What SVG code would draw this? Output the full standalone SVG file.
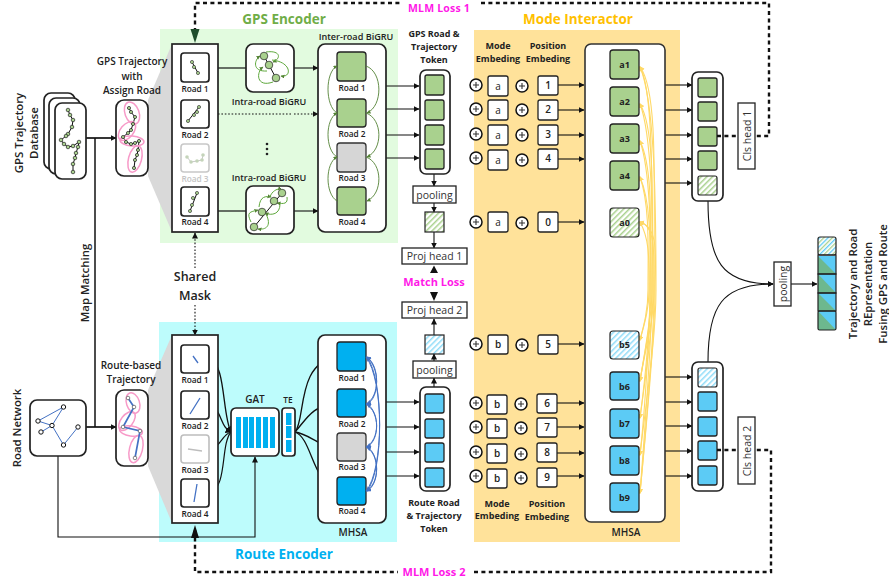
<svg xmlns="http://www.w3.org/2000/svg" width="889" height="584" viewBox="0 0 889 584">
<style>
text{font-family:"Open Sans","Noto Sans","DejaVu Sans",sans-serif;fill:#222;text-anchor:middle}
.t{font-size:8.3px;font-weight:600}
.i{font-size:9.1px;font-weight:600}
.s{font-size:9px;font-weight:700}
.l{font-size:10px;font-weight:600}
.r{font-size:11.4px;font-weight:600}
.h{font-size:10.5px;font-weight:400;fill:#333}
.big{font-size:13.5px;font-weight:700}
.sh{font-size:12.5px;font-weight:600}
.mag{font-size:11px;font-weight:700;fill:#ff19e8}
.box{fill:#fff;stroke:#222;stroke-width:1.7}
.bx2{fill:#fff;stroke:#222;stroke-width:1.3}
.rt{fill:#fff;stroke:#222;stroke-width:1.7}
.g{fill:#a9d18e;stroke:#222;stroke-width:1.3}
.b{fill:#00b0f0;stroke:#222;stroke-width:1.3}
.lb{fill:#5ccbf5;stroke:#222;stroke-width:1.3}
.gr{fill:#d6d6d6;stroke:#333;stroke-width:1.3}
.hg{fill:url(#hg);stroke:#222;stroke-width:1.2}
.hb{fill:url(#hb);stroke:#222;stroke-width:1.2}
.a{fill:none;stroke:#111;stroke-width:1.1;marker-end:url(#ah)}
.n{fill:none;stroke:#111;stroke-width:1.2}
.d{fill:none;stroke:#111;stroke-width:2.4;stroke-dasharray:4 3.4}
.dot{fill:none;stroke:#111;stroke-width:1.1;stroke-dasharray:1.6 1.8}
.ga{fill:none;stroke:#548235;stroke-width:.9;marker-end:url(#ag)}
.ia{fill:none;stroke:#5ea83c;stroke-width:1;marker-end:url(#ag)}
.ba{fill:none;stroke:#4472c4;stroke-width:1;marker-end:url(#ab)}
.ya{fill:none;stroke:#ffd966;stroke-width:1.1;marker-end:url(#ay);marker-start:url(#ays)}
.pk{fill:none;stroke:#f79ac8;stroke-width:1.5}
.tr{fill:none;stroke:#111;stroke-width:1}
.pt{fill:#a9d18e;stroke:#222;stroke-width:.7}
.pw{fill:#fff;stroke:#555;stroke-width:.7}
.bl{fill:none;stroke:#4472c4;stroke-width:1.3}
.tile{fill:#00b0f0}
</style>
<defs>
<marker id="ah" markerUnits="userSpaceOnUse" markerWidth="7" markerHeight="7" refX="5.500" refY="3" orient="auto"><path d="M0 0L6 3L0 6z" fill="#111"/></marker>
<marker id="ag" markerUnits="userSpaceOnUse" markerWidth="5" markerHeight="5" refX="3.500" refY="2" orient="auto"><path d="M0 0L4 2L0 4z" fill="#548235"/></marker>
<marker id="ab" markerUnits="userSpaceOnUse" markerWidth="6" markerHeight="6" refX="4" refY="2.500" orient="auto"><path d="M0 0L5 2.500L0 5z" fill="#4472c4"/></marker>
<marker id="ay" markerUnits="userSpaceOnUse" markerWidth="6" markerHeight="6" refX="4" refY="2.500" orient="auto"><path d="M0 0L5 2.500L0 5z" fill="#ffd966"/></marker>
<marker id="ays" markerUnits="userSpaceOnUse" markerWidth="6" markerHeight="6" refX="4" refY="2.500" orient="auto-start-reverse"><path d="M0 0L5 2.500L0 5z" fill="#ffd966"/></marker>
<pattern id="hg" patternUnits="userSpaceOnUse" width="4" height="4" patternTransform="rotate(45)"><rect width="4" height="4" fill="#fff"/><rect width="1.500" height="4" fill="#a9d18e"/></pattern>
<pattern id="hb" patternUnits="userSpaceOnUse" width="4" height="4" patternTransform="rotate(45)"><rect width="4" height="4" fill="#fff"/><rect width="1.500" height="4" fill="#8fdcf8"/></pattern>
<pattern id="hm" patternUnits="userSpaceOnUse" width="6" height="6" patternTransform="rotate(45)"><rect width="6" height="6" fill="#fff"/><rect width="1.300" height="6" fill="#a9d18e"/><rect x="3" width="1.300" height="6" fill="#5ccbf5"/></pattern>
<g id="plus"><circle r="6" fill="#fff" stroke="#111" stroke-width="1.500"/><path d="M-3 0H3M0-3V3" stroke="#333" stroke-width="1.100"/></g>
</defs>

<g id="backgrounds">
<rect x="160" y="29" width="238" height="214" fill="#e2fbdf"/>
<rect x="159" y="322" width="238" height="220" fill="#bdfcfc"/>
<rect x="474" y="30" width="206" height="512" fill="#ffe29a"/>
<path d="M148 100L172 44V232L148 176z" fill="#d9d9d9"/>
<path d="M148 390L172 335V523L148 466z" fill="#d9d9d9"/>
</g>

<g id="titles">
<text x="284" y="24" class="big" style="fill:#70ad47">GPS Encoder</text>
<text x="284" y="559" class="big" style="fill:#00b0f0">Route Encoder</text>
<text x="578" y="24" class="big" style="fill:#ffc000">Mode Interactor</text>
<text x="439" y="11.500" class="mag" style="font-size:10.500px;letter-spacing:.2px">MLM Loss 1</text>
<text x="434" y="576" class="mag">MLM Loss 2</text>
<text x="434" y="286" class="mag">Match Loss</text>
<text x="195" y="281" class="sh">Shared</text>
<text x="195" y="300" class="sh">Mask</text>
<text x="132" y="65" class="l">GPS Trajectory</text><text x="132" y="80" class="l">with</text><text x="132" y="94" class="l">Assign Road</text>
<text x="131" y="369" class="l">Route-based</text><text x="131" y="383" class="l">Trajectory</text>
<text transform="translate(23,133) rotate(-90)" class="r">GPS Trajectory</text>
<text transform="translate(38,133) rotate(-90)" class="r">Database</text>
<text transform="translate(21,428) rotate(-90)" class="r">Road Network</text>
<text transform="translate(89,283) rotate(-90)" class="r">Map Matching</text>
<text transform="translate(857,284) rotate(-90)" class="r">Trajectory and Road</text>
<text transform="translate(872,284) rotate(-90)" class="r">REpresentation</text>
<text transform="translate(887,284) rotate(-90)" class="r">Fusing GPS and Route</text>
<text x="434" y="37" class="s">GPS Road &amp;</text><text x="434" y="50" class="s">Trajectory</text><text x="434" y="63" class="s">Token</text>
<text x="434" y="506" class="s">Route Road</text><text x="434" y="519" class="s">&amp; Trajectory</text><text x="434" y="532" class="s">Token</text>
<text x="498" y="49" class="s">Mode</text><text x="498" y="62" class="s">Embeding</text>
<text x="548" y="49" class="s">Position</text><text x="548" y="62" class="s">Embeding</text>
<text x="497" y="507" class="s">Mode</text><text x="497" y="519" class="s">Embeding</text>
<text x="547" y="507" class="s">Position</text><text x="547" y="520" class="s">Embeding</text>
<text x="356" y="40" class="i">Inter-road BiGRU</text>
<text x="269" y="105" class="i">Intra-road BiGRU</text>
<text x="269" y="181" class="i">Intra-road BiGRU</text>
<text x="353" y="536" class="l">MHSA</text>
<text x="626" y="536" class="l">MHSA</text>
<text x="255" y="403" class="l">GAT</text>
<text x="288" y="403" class="t">TE</text>
<g fill="#222" id="ellipsis"><circle cx="267" cy="144" r="1.300"/><circle cx="267" cy="149" r="1.300"/><circle cx="267" cy="154" r="1.300"/></g>
</g>

<g id="connectors">
<path class="d" d="M195 32V3H400M481 3H769V136H755"/>
<path d="M190.500 29H199.500L195 43z" fill="#1e4d2b"/>
<path class="d" d="M195 530V572H398M474 572H771V450H755"/>
<path d="M191 538H199L195 525z" fill="#111"/>
<path class="a" style="stroke-width:1.700" d="M86 138H116"/>
<path class="n" style="stroke-width:1.500" d="M95 138V427"/>
<path class="a" style="stroke-width:1.700" d="M86 427H116"/>
<path class="a" d="M58 456V537H255V457"/>
<path class="dot" style="marker-end:url(#ah)" d="M195 268V233"/>
<path class="dot" style="marker-end:url(#ah)" d="M195 305V335"/>
<path class="n" d="M218 68H246"/><path class="a" d="M294 68H318"/>
<path class="dot" d="M218 114H292"/><path class="dot" style="marker-end:url(#ah)" d="M294 114H318"/>
<path class="n" d="M218 211H246"/><path class="a" d="M294 211H318"/>
<path class="a" d="M386 86H419"/><path class="a" d="M386 109H419"/><path class="a" d="M386 135H419"/><path class="a" d="M386 158H419"/>
<path class="a" d="M386 402H419"/><path class="a" d="M386 427H419"/><path class="a" d="M386 452H419"/><path class="a" d="M386 476H419"/>
<path class="a" d="M434 174V186"/><path class="a" d="M434 203V212"/><path class="a" d="M434 232V248"/>
<path class="a" d="M434 335V319"/><path class="a" d="M434 361V354"/><path class="a" d="M434 387V378"/>
<path d="M430 273L434 265.500L438 273z M430 292H438L434 301z" fill="#111"/>
<path class="a" d="M558 85H584"/><path class="a" d="M558 110H584"/><path class="a" d="M558 135H584"/><path class="a" d="M558 159H584"/><path class="a" d="M558 222H584"/>
<path class="a" d="M558 344H584"/><path class="a" d="M557 403H584"/><path class="a" d="M557 427H584"/><path class="a" d="M557 453H584"/><path class="a" d="M557 476H584"/>
<path class="a" d="M665 85H692"/><path class="a" d="M665 110H692"/><path class="a" d="M665 135H692"/><path class="a" d="M665 159H692"/><path class="a" d="M665 183H692"/>
<path class="a" d="M665 377H692"/><path class="a" d="M665 402H692"/><path class="a" d="M665 426H692"/><path class="a" d="M665 451H692"/><path class="a" d="M665 476H692"/>
<path class="a" d="M708 201C708 262 722 284 773 284"/>
<path class="a" d="M708 362C708 306 722 284 773 284"/>
<path class="a" d="M791 284H817"/>
<path class="a" style="stroke-width:1.300" d="M209 359C226 362 222 415 231 432"/>
<path class="a" style="stroke-width:1.300" d="M209 405C222 408 220 428 231 432"/>
<path class="n" d="M209 449C220 449 222 434 231 432"/>
<path class="n" d="M209 493C228 488 220 445 231 432"/>
<path class="a" style="stroke-width:1.300" d="M295 432C306 420 296 362 337 357"/>
<path class="a" style="stroke-width:1.300" d="M295 432C306 420 312 405 337 403"/>
<path class="a" style="stroke-width:1.300" d="M295 432C310 434 318 447 337 447"/>
<path class="a" style="stroke-width:1.300" d="M295 432C312 438 312 482 337 490"/>
</g>

<g id="node-database">
<rect x="44" y="93" width="31" height="76" rx="7" class="box"/>
<rect x="49" y="98" width="31" height="76" rx="7" class="box"/>
<rect x="55" y="103" width="31" height="76" rx="7" class="box"/>
<path class="tr" d="M68 110L70 115L73 120L72 127L68 134L66 136L61 140L64 144L68 147L73 146L79 142L78 147L76 153L75 158L73 164L73 172"/>
<g class="pt"><circle cx="68" cy="110" r="1.800"/><circle cx="70" cy="115" r="1.800"/><circle cx="73" cy="120" r="1.800"/><circle cx="72" cy="127" r="1.800"/><circle cx="68" cy="134" r="1.800"/><circle cx="66" cy="136" r="1.800"/><circle cx="61" cy="140" r="1.800"/><circle cx="64" cy="144" r="1.800"/><circle cx="68" cy="147" r="1.800"/><circle cx="73" cy="146" r="1.800"/><circle cx="79" cy="142" r="1.800"/><circle cx="78" cy="147" r="1.800"/><circle cx="76" cy="153" r="1.800"/><circle cx="75" cy="158" r="1.800"/><circle cx="73" cy="164" r="1.800"/><circle cx="73" cy="172" r="1.800"/></g>
</g>

<g id="node-gps-trajectory">
<rect x="116" y="100" width="32" height="76" rx="8" class="box"/>
<path class="tr" d="M129 108L131 112L135 117L133 124L131 130L128 133L123 137L126 142L131 144L135 143L139 141L138 150L137 155L135 160L134 168"/>
<g class="pk"><ellipse cx="132" cy="113" rx="7" ry="11.500" transform="rotate(-20 132 113)"/><ellipse cx="127" cy="131" rx="6.500" ry="11" transform="rotate(40 127 131)"/><ellipse cx="132" cy="141" rx="12" ry="5" transform="rotate(5 132 141)"/><ellipse cx="135" cy="159" rx="6.500" ry="13.500" transform="rotate(15 135 159)"/></g>
<g class="pt"><circle cx="129" cy="108" r="1.600"/><circle cx="131" cy="112" r="1.600"/><circle cx="135" cy="117" r="1.600"/><circle cx="133" cy="124" r="1.600"/><circle cx="131" cy="130" r="1.600"/><circle cx="128" cy="133" r="1.600"/><circle cx="123" cy="137" r="1.600"/><circle cx="126" cy="142" r="1.600"/><circle cx="131" cy="144" r="1.600"/><circle cx="135" cy="143" r="1.600"/><circle cx="139" cy="141" r="1.600"/><circle cx="138" cy="150" r="1.600"/><circle cx="137" cy="155" r="1.600"/><circle cx="135" cy="160" r="1.600"/><circle cx="134" cy="168" r="1.600"/></g>
</g>

<g id="node-road-network">
<rect x="30" y="400" width="56" height="56" rx="7" class="box"/>
<path class="bl" style="stroke-width:1" d="M38 421L52 425.500M38 421L63.500 407M63.500 407L52 425.500M52 425.500L41 432M52 425.500L63.500 445L78 427"/>
<g fill="#fff" stroke="#111" stroke-width="1"><circle cx="63.500" cy="407" r="2.200"/><circle cx="38" cy="421" r="2.200"/><circle cx="52" cy="425.500" r="2.200"/><circle cx="41" cy="432" r="2.200"/><circle cx="78" cy="427" r="2.200"/><circle cx="63.500" cy="445" r="2.200"/></g>
</g>

<g id="node-route-trajectory">
<rect x="116" y="390" width="32" height="76" rx="8" class="box"/>
<g class="pk"><ellipse cx="133" cy="403" rx="6.500" ry="10.500" transform="rotate(-18 133 403)"/><ellipse cx="127" cy="421" rx="6" ry="11" transform="rotate(38 127 421)"/><ellipse cx="131" cy="431" rx="11.500" ry="5" transform="rotate(8 131 431)"/><ellipse cx="136" cy="449" rx="6.500" ry="14" transform="rotate(14 136 449)"/></g>
<path class="bl" style="stroke-width:1.700" d="M128 398L134 407L123 427L140 431L135 458"/>
<g class="pw"><circle cx="128" cy="398" r="1.800"/><circle cx="134" cy="407" r="1.800"/><circle cx="123" cy="427" r="1.800"/><circle cx="140" cy="431" r="1.800"/><circle cx="135" cy="458" r="1.800"/></g>
</g>

<g id="node-gps-roads">
<rect x="172" y="44" width="46" height="188" class="box"/>
<rect x="181" y="53" width="28" height="29" rx="3" class="rt"/>
<rect x="181" y="100" width="28" height="28" rx="3" class="rt"/>
<rect x="181" y="144" width="28" height="28" rx="3" fill="#fff" stroke="#c8c8c8" stroke-width="1.600"/>
<rect x="181" y="187" width="28" height="29" rx="3" class="rt"/>
<path class="tr" d="M192 62L198 73M199 107L188 121M197 193L190 211"/>
<path d="M187 157L191 162L197 161L202 160L203 155" fill="none" stroke="#c8c8c8"/>
<g class="pt" style="stroke-width:.6"><circle cx="192" cy="62" r="1.600"/><circle cx="194" cy="67" r="1.600"/><circle cx="198" cy="73" r="1.600"/><circle cx="199" cy="107" r="1.600"/><circle cx="197" cy="112" r="1.600"/><circle cx="194" cy="115" r="1.600"/><circle cx="188" cy="121" r="1.600"/><circle cx="197" cy="193" r="1.600"/><circle cx="193" cy="198" r="1.600"/><circle cx="192" cy="205" r="1.600"/><circle cx="190" cy="211" r="1.600"/></g>
<g fill="#c4d4ba"><circle cx="187" cy="157" r="1.800"/><circle cx="191" cy="162" r="1.800"/><circle cx="197" cy="161" r="1.800"/><circle cx="202" cy="160" r="1.800"/><circle cx="203" cy="155" r="1.800"/></g>
<text x="195" y="92" class="t">Road 1</text><text x="195" y="138" class="t">Road 2</text><text x="195" y="182" class="t" style="fill:#c4c4c4">Road 3</text><text x="195" y="225" class="t">Road 4</text>
</g>

<g id="node-route-roads">
<rect x="172" y="335" width="46" height="188" class="box"/>
<rect x="181" y="345" width="28" height="28" rx="3" class="rt"/>
<rect x="181" y="391" width="28" height="28" rx="3" class="rt"/>
<rect x="181" y="435" width="28" height="28" rx="3" fill="#fff" stroke="#bdbdbd" stroke-width="1.600"/>
<rect x="181" y="479" width="28" height="28" rx="3" class="rt"/>
<path class="bl" d="M193 356L198 363M200 398L190 414M197 484L194 502"/>
<path d="M188 449L202 451" stroke="#bdbdbd" stroke-width="1.300"/>
<text x="195" y="383" class="t">Road 1</text><text x="195" y="429" class="t">Road 2</text><text x="195" y="473" class="t">Road 3</text><text x="195" y="517" class="t">Road 4</text>
</g>

<g id="node-intra-1">
<rect x="246" y="44" width="48" height="48" rx="7" class="box"/>
<path class="tr" d="M264 56L276 78"/>
<path class="ia" d="M266 52C280 50 282 58 273 62"/>
<path class="ia" d="M267 71C252 72 254 60 260 56"/>
<path class="ia" d="M272 60C292 62 292 78 281 76"/>
<path class="ia" d="M273 82C256 88 256 72 263 67"/>
<g class="pt"><circle cx="264" cy="56" r="3.800"/><circle cx="269" cy="65" r="3.800"/><circle cx="276" cy="78" r="3.800"/></g>
</g>

<g id="node-intra-2">
<rect x="246" y="186" width="48" height="48" rx="7" class="box"/>
<path class="tr" d="M254 227L282 193"/>
<path class="ia" d="M251 222C246 212 250 212 258 210"/>
<path class="ia" d="M266 214C272 226 266 230 258 229"/>
<path class="ia" d="M259 207C260 196 266 196 271 197"/>
<path class="ia" d="M280 204C280 214 272 216 265 213"/>
<path class="ia" d="M270 197C272 190 280 188 278 190"/>
<path class="ia" d="M287 197C288 204 284 204 277 203"/>
<g class="pt"><circle cx="254" cy="227" r="3.800"/><circle cx="262" cy="212" r="3.800"/><circle cx="274" cy="201" r="3.800"/><circle cx="282" cy="193" r="3.800"/></g>
</g>

<g id="node-inter-road">
<rect x="318" y="44" width="68" height="188" rx="7" class="box"/>
<rect x="337" y="52" width="29" height="29" rx="3" class="g"/>
<rect x="337" y="99" width="29" height="28" rx="3" class="g"/>
<rect x="337" y="143" width="29" height="29" rx="3" class="gr"/>
<rect x="337" y="187" width="29" height="28" rx="3" class="g"/>
<path class="ga" d="M366 66C383 72 383 106 367 113"/><path class="ga" d="M366 113C383 119 383 150 367 157"/><path class="ga" d="M366 157C383 163 383 194 367 201"/>
<path class="ga" d="M337 113C325 106 325 72 337 66"/><path class="ga" d="M337 157C325 150 325 119 337 113"/><path class="ga" d="M337 201C325 194 325 163 337 157"/>
<text x="352" y="91" class="t">Road 1</text><text x="352" y="137" class="t">Road 2</text><text x="352" y="181" class="t">Road 3</text><text x="352" y="225" class="t">Road 4</text>
</g>

<g id="node-mhsa-route">
<rect x="318" y="335" width="68" height="188" rx="7" class="box"/>
<rect x="337" y="342" width="29" height="29" rx="3" class="b"/>
<rect x="337" y="389" width="29" height="28" rx="3" class="b"/>
<rect x="337" y="433" width="29" height="28" rx="3" class="gr"/>
<rect x="337" y="477" width="29" height="28" rx="3" class="b"/>
<path class="ba" d="M366 357C380 366 380 398 367 404"/><path class="ba" d="M366 404C380 397 380 366 367 357"/>
<path class="ba" d="M366 404C380 412 380 440 367 447"/><path class="ba" d="M366 447C380 440 380 412 367 404"/>
<path class="ba" d="M366 447C380 454 380 484 367 491"/><path class="ba" d="M366 491C380 484 380 454 367 447"/>
<path class="ba" d="M366 357C384 380 384 470 367 491"/><path class="ba" d="M366 491C384 470 384 380 367 357"/>
<text x="352" y="381" class="t">Road 1</text><text x="352" y="427" class="t">Road 2</text><text x="352" y="470" class="t">Road 3</text><text x="352" y="514" class="t">Road 4</text>
</g>

<g id="node-gat">
<rect x="231" y="408" width="48" height="48" rx="5" class="box"/>
<g class="tile"><rect x="236" y="417" width="5" height="31"/><rect x="243" y="417" width="5" height="31"/><rect x="249" y="417" width="5" height="31"/><rect x="256" y="417" width="5" height="31"/><rect x="263" y="417" width="5" height="31"/><rect x="270" y="417" width="5" height="31"/></g>
</g>
<g id="node-te">
<rect x="282" y="408" width="13" height="48" rx="3" class="box"/>
<g class="tile"><rect x="286" y="413" width="5.500" height="12"/><rect x="286" y="426" width="5.500" height="12"/><rect x="286" y="440" width="5.500" height="12"/></g>
</g>

<g id="node-gps-token">
<rect x="420" y="70" width="30" height="104" rx="6" class="box"/>
<rect x="425" y="75" width="19" height="20" rx="2" class="g"/><rect x="425" y="100" width="19" height="20" rx="2" class="g"/><rect x="425" y="125" width="19" height="20" rx="2" class="g"/><rect x="425" y="149" width="19" height="20" rx="2" class="g"/>
</g>
<g id="node-route-token">
<rect x="420" y="387" width="30" height="104" rx="6" class="box"/>
<rect x="425" y="394" width="19" height="19" rx="2" class="lb"/><rect x="425" y="419" width="19" height="19" rx="2" class="lb"/><rect x="425" y="443" width="19" height="19" rx="2" class="lb"/><rect x="425" y="468" width="19" height="19" rx="2" class="lb"/>
</g>
<g id="node-pool-1"><rect x="413" y="186" width="43" height="17" class="bx2"/><text x="434.500" y="198.500" class="h">pooling</text></g>
<g id="node-cls-gps"><rect x="425" y="212" width="19" height="20" class="hg"/></g>
<g id="node-proj-1"><rect x="402" y="248" width="65" height="16" class="bx2"/><text x="434.500" y="260" class="h">Proj head 1</text></g>
<g id="node-proj-2"><rect x="402" y="302" width="65" height="16" class="bx2"/><text x="434.500" y="314" class="h">Proj head 2</text></g>
<g id="node-cls-route"><rect x="425" y="335" width="19" height="19" class="hb"/></g>
<g id="node-pool-2"><rect x="413" y="361" width="43" height="17" class="bx2"/><text x="434.500" y="373.500" class="h">pooling</text></g>

<g id="node-mode-plus">
<use href="#plus" x="476" y="85"/><use href="#plus" x="522" y="86"/>
<use href="#plus" x="476" y="109"/><use href="#plus" x="522" y="110"/>
<use href="#plus" x="476" y="134"/><use href="#plus" x="522" y="135"/>
<use href="#plus" x="476" y="158"/><use href="#plus" x="522" y="160"/>
<use href="#plus" x="476" y="222"/><use href="#plus" x="522" y="223"/>
<use href="#plus" x="476" y="344"/><use href="#plus" x="522" y="345"/>
<use href="#plus" x="476" y="403"/><use href="#plus" x="521" y="404"/>
<use href="#plus" x="476" y="427"/><use href="#plus" x="521" y="428"/>
<use href="#plus" x="476" y="452"/><use href="#plus" x="521" y="454"/>
<use href="#plus" x="476" y="476"/><use href="#plus" x="521" y="478"/>
</g>
<g id="node-mode-a">
<rect x="488" y="76" width="20" height="20" rx="2" class="bx2"/><text x="498" y="90" class="l" style="font-weight:400">a</text>
<rect x="488" y="100" width="20" height="20" rx="2" class="bx2"/><text x="498" y="114" class="l" style="font-weight:400">a</text>
<rect x="488" y="125" width="20" height="20" rx="2" class="bx2"/><text x="498" y="139" class="l" style="font-weight:400">a</text>
<rect x="488" y="150" width="20" height="20" rx="2" class="bx2"/><text x="498" y="164" class="l" style="font-weight:400">a</text>
<rect x="488" y="212" width="20" height="20" rx="2" class="bx2"/><text x="498" y="226" class="l" style="font-weight:400">a</text>
</g>
<g id="node-mode-b">
<rect x="488" y="335" width="20" height="19" rx="2" class="bx2"/><text x="498" y="348" class="l">b</text>
<rect x="487" y="395" width="20" height="19" rx="2" class="bx2"/><text x="497" y="408" class="l">b</text>
<rect x="487" y="419" width="20" height="19" rx="2" class="bx2"/><text x="497" y="432" class="l">b</text>
<rect x="487" y="444" width="20" height="19" rx="2" class="bx2"/><text x="497" y="457" class="l">b</text>
<rect x="487" y="469" width="20" height="19" rx="2" class="bx2"/><text x="497" y="482" class="l">b</text>
</g>
<g id="node-position">
<rect x="538" y="76" width="20" height="19" rx="2" class="bx2"/><text x="548" y="89" class="l">1</text>
<rect x="538" y="100" width="20" height="20" rx="2" class="bx2"/><text x="548" y="113" class="l">2</text>
<rect x="538" y="125" width="20" height="20" rx="2" class="bx2"/><text x="548" y="138" class="l">3</text>
<rect x="538" y="149" width="20" height="20" rx="2" class="bx2"/><text x="548" y="162" class="l">4</text>
<rect x="538" y="212" width="20" height="20" rx="2" class="bx2"/><text x="548" y="226" class="l">0</text>
<rect x="538" y="335" width="20" height="19" rx="2" class="bx2"/><text x="548" y="348" class="l">5</text>
<rect x="537" y="394" width="20" height="19" rx="2" class="bx2"/><text x="547" y="407" class="l">6</text>
<rect x="537" y="418" width="20" height="19" rx="2" class="bx2"/><text x="547" y="431" class="l">7</text>
<rect x="537" y="443" width="20" height="19" rx="2" class="bx2"/><text x="547" y="456" class="l">8</text>
<rect x="537" y="468" width="20" height="19" rx="2" class="bx2"/><text x="547" y="481" class="l">9</text>
</g>

<g id="node-mhsa-mode">
<rect x="585" y="44" width="80" height="478" rx="6" fill="#fff" stroke="#333" stroke-width="1.600"/>
<path class="ya" d="M640 493C645 440 654 340 654 290C654 180 658 90 640 67"/>
<path class="ya" d="M640 455C645 410 656 340 656 290C656 190 654 100 640 67"/>
<path class="ya" d="M640 381C645 350 652 320 652 290C652 200 654 90 640 67"/>
<path class="ya" d="M640 493C644 440 652 340 652 290C652 210 656 130 640 104"/>
<path class="ya" d="M640 418C645 380 653 330 653 290C653 220 652 135 640 104"/>
<path class="ya" d="M640 455C645 410 650 330 650 290C650 230 654 170 640 141"/>
<path class="ya" d="M640 381C645 350 651 320 651 290C651 230 650 170 640 141"/>
<path class="ya" d="M640 418C645 380 650 330 650 290C650 250 652 205 640 177"/>
<path class="ya" d="M640 340C644 325 648 310 648 290C648 250 650 205 640 177"/>
<path class="ya" d="M640 493C645 440 655 340 655 290C655 260 660 228 640 222"/>
<path class="ya" d="M640 381C645 350 654 320 654 290C654 255 656 226 640 222"/>
<path class="ya" d="M640 340C644 325 649 310 649 290C649 260 650 240 640 222"/>
<rect x="610" y="50" width="29" height="29" rx="3" class="g"/><text x="624.500" y="68" class="s">a1</text>
<rect x="610" y="87" width="29" height="29" rx="3" class="g"/><text x="624.500" y="105" class="s">a2</text>
<rect x="610" y="124" width="29" height="29" rx="3" class="g"/><text x="624.500" y="142" class="s">a3</text>
<rect x="610" y="161" width="29" height="29" rx="3" class="g"/><text x="624.500" y="179" class="s">a4</text>
<rect x="610" y="208" width="29" height="29" rx="3" class="hg"/><text x="624.500" y="226" class="s">a0</text>
<rect x="610" y="331" width="29" height="28" rx="3" class="hb"/><text x="624.500" y="348" class="s">b5</text>
<rect x="610" y="372" width="29" height="28" rx="3" class="lb"/><text x="624.500" y="390" class="s">b6</text>
<rect x="610" y="409" width="29" height="29" rx="3" class="lb"/><text x="624.500" y="427" class="s">b7</text>
<rect x="610" y="446" width="29" height="29" rx="3" class="lb"/><text x="624.500" y="464" class="s">b8</text>
<rect x="610" y="483" width="29" height="29" rx="3" class="lb"/><text x="624.500" y="501" class="s">b9</text>
</g>

<g id="node-out-gps">
<rect x="692" y="72" width="31" height="129" rx="6" class="box"/>
<rect x="698" y="78" width="19" height="19" rx="2" class="g"/><rect x="698" y="102" width="19" height="19" rx="2" class="g"/><rect x="698" y="127" width="19" height="19" rx="2" class="g"/><rect x="698" y="151" width="19" height="19" rx="2" class="g"/><rect x="698" y="176" width="19" height="19" rx="2" class="hg"/>
</g>
<g id="node-out-route">
<rect x="692" y="362" width="31" height="129" rx="6" class="box"/>
<rect x="698" y="368" width="19" height="19" rx="2" class="hb"/><rect x="698" y="392" width="19" height="19" rx="2" class="lb"/><rect x="698" y="417" width="19" height="19" rx="2" class="lb"/><rect x="698" y="441" width="19" height="19" rx="2" class="lb"/><rect x="698" y="466" width="19" height="19" rx="2" class="lb"/>
</g>
<path class="d" d="M717 136H738"/>
<path class="d" d="M717 450H738"/>
<g id="node-cls-1"><rect x="738" y="103" width="17" height="66" class="bx2"/><text transform="translate(750.500,136) rotate(-90)" class="h">Cls head 1</text></g>
<g id="node-cls-2"><rect x="738" y="417" width="17" height="67" class="bx2"/><text transform="translate(750.500,451) rotate(-90)" class="h">Cls head 2</text></g>
<g id="node-pool-3"><rect x="774" y="262" width="17" height="44" class="bx2"/><text transform="translate(786.500,284) rotate(-90)" class="h">pooling</text></g>

<g id="node-fused">
<rect x="818" y="237" width="18" height="18" rx="2" fill="url(#hm)" stroke="#222" stroke-width="1.200"/>
<g stroke="none">
<rect x="818" y="256" width="18" height="18" fill="#5ccbf5"/><path d="M818 256L836 274H818z" fill="#6db88e"/>
<rect x="818" y="274" width="18" height="19" fill="#5ccbf5"/><path d="M818 274L836 293H818z" fill="#6db88e"/>
<rect x="818" y="293" width="18" height="18" fill="#5ccbf5"/><path d="M818 293L836 311H818z" fill="#6db88e"/>
<rect x="818" y="311" width="18" height="19" fill="#5ccbf5"/><path d="M818 311L836 330H818z" fill="#6db88e"/>
</g>
<rect x="818" y="255" width="18" height="19" fill="none" stroke="#222" stroke-width="1.200"/>
<rect x="818" y="274" width="18" height="19" fill="none" stroke="#222" stroke-width="1.200"/>
<rect x="818" y="293" width="18" height="18" fill="none" stroke="#222" stroke-width="1.200"/>
<rect x="818" y="311" width="18" height="19" rx="1.500" fill="none" stroke="#222" stroke-width="1.200"/>
</g>
</svg>
